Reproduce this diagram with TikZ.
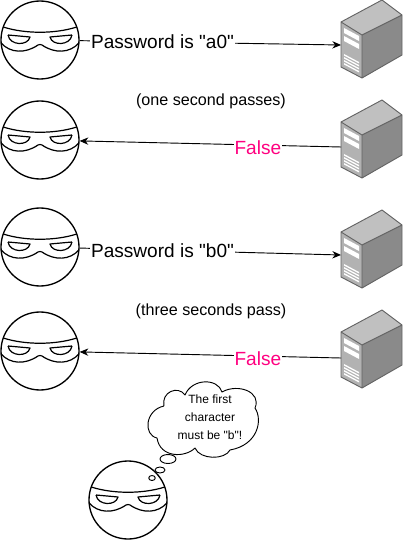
\documentclass[tikz,border=0pt]{standalone}
\usepackage{fontspec}
\usetikzlibrary{arrows.meta}
\setmainfont[Ligatures=TeXOff]{Liberation Sans}
\definecolor{falsepink}{RGB}{255,0,128}
\definecolor{srvfront}{RGB}{178,178,178}
\definecolor{srvtop}{RGB}{192,192,192}
\definecolor{srvside}{RGB}{138,138,138}
\definecolor{srvedge}{RGB}{100,100,100}
\tikzset{
	headnode/.style={circle,draw,line width=1pt,minimum size=58.5pt,inner sep=0pt},
	msgnode/.style={font=\fontsize{14.3}{16}\selectfont,fill=white,inner sep=.5pt},
	falsenode/.style={msgnode,text=falsepink,yshift=-2.2pt},
	notenode/.style={font=\fontsize{12.1}{14}\selectfont},
	cloudnode/.style={font=\fontsize{9}{13.5}\selectfont,align=center},
	link/.style={-{Stealth[length=6.5pt,width=5.5pt]},line width=.7pt},
	mask/.pic={
		\draw[line width=.9pt] (-36.8,-13) .. controls (-15,-6) and (15,-6) .. (36.8,-13);
		\draw[line width=.9pt] (-38.9,3) .. controls (-30,13) and (-15,14) .. (-2,5) -- (0,4.5) -- (2,5)
			.. controls (15,14) and (30,13) .. (38.9,3);
		\draw[line width=.9pt] (-32,-5) -- (-10,-3) .. controls (-12,6) and (-30,6) .. (-32,-5);
		\draw[line width=.9pt] (32,-5) -- (10,-3) .. controls (12,6) and (30,6) .. (32,-5);
	},
	server/.pic={
		\fill[srvfront] (-21,-24) -- (0,-11) -- (0,32) -- (-21,21) -- cycle;
		\fill[srvtop] (-21,-24) -- (20,-46) -- (40,-31) -- (0,-11) -- cycle;
		\fill[srvside] (0,-11) -- (40,-31) -- (40,9) -- (0,32) -- cycle;
		\draw[srvedge,line width=.7pt] (-21,-24) -- (20,-46) -- (40,-31) -- (40,9) -- (0,32) -- (-21,21) -- cycle (-21,-24) -- (0,-11) -- (40,-31) (0,-11) -- (0,32);
		\fill[white] (-18,-18) -- (-3,-10) -- (-3,-5) -- (-18,-13) -- cycle (-18,-10) -- (-3,-2) -- (-3,3) -- (-18,-5) -- cycle;
		\foreach \y in {0,3,6,9} \fill[white] (-18,8+\y) -- (-3,16+\y) -- (-3,17.5+\y) -- (-18,9.5+\y) -- cycle;
	}
}
\begin{document}
\begin{tikzpicture}[x=.75pt,y=-.75pt,line join=round]
	\useasboundingbox (0,0) rectangle (404,541);
	%heads
	\foreach \name/\x/\y in {headA/40/40,headB/40/140,headC/40/247,headD/40/351,headE/128/500} {
		\node[headnode] (\name) at (\x,\y) {};
		\path (\x,\y) pic{mask};
	}
	%servers
	\foreach \name/\y/\t in {srvA/46/45,srvB/146/147,srvC/256/255,srvD/356/358} {
		\path (362,\y) pic{server};
		\coordinate (\name) at (341,\t);
	}
	%messages
	\draw[link] (headA) -- node[msgnode,pos=.317] (msgA) {Password is "a0"} (srvA);
	\draw[link] (srvB) -- node[falsenode,pos=.318] (msgB) {False} (headB);
	\draw[link] (headC) -- node[msgnode,pos=.317] (msgC) {Password is "b0"} (srvC);
	\draw[link] (srvD) -- node[falsenode,pos=.318] (msgD) {False} (headD);
	\path (211,101) node[notenode] (noteA) {(one second passes)} (211,311) node[notenode] (noteB) {(three seconds pass)};
	%thought
	\draw[line width=.7pt,fill=white] (164,406) .. controls (161,392) and (178,385) .. (185,395)
		.. controls (192,378) and (218,378) .. (222,392)
		.. controls (238,383) and (262,392) .. (255,408)
		.. controls (263,420) and (258,445) .. (230,450)
		.. controls (225,460) and (200,460) .. (195,448)
		.. controls (185,458) and (160,458) .. (157,438)
		.. controls (143,435) and (145,410) .. (164,406);
	\node[cloudnode] (thought) at (210,417) {The first\\character\\must be "b"!};
	\draw[line width=.7pt] (168,459) ellipse (8 and 4.5) (160,470) ellipse (5 and 3) (152,478) ellipse (3.3 and 2.5);
\end{tikzpicture}
\end{document}
